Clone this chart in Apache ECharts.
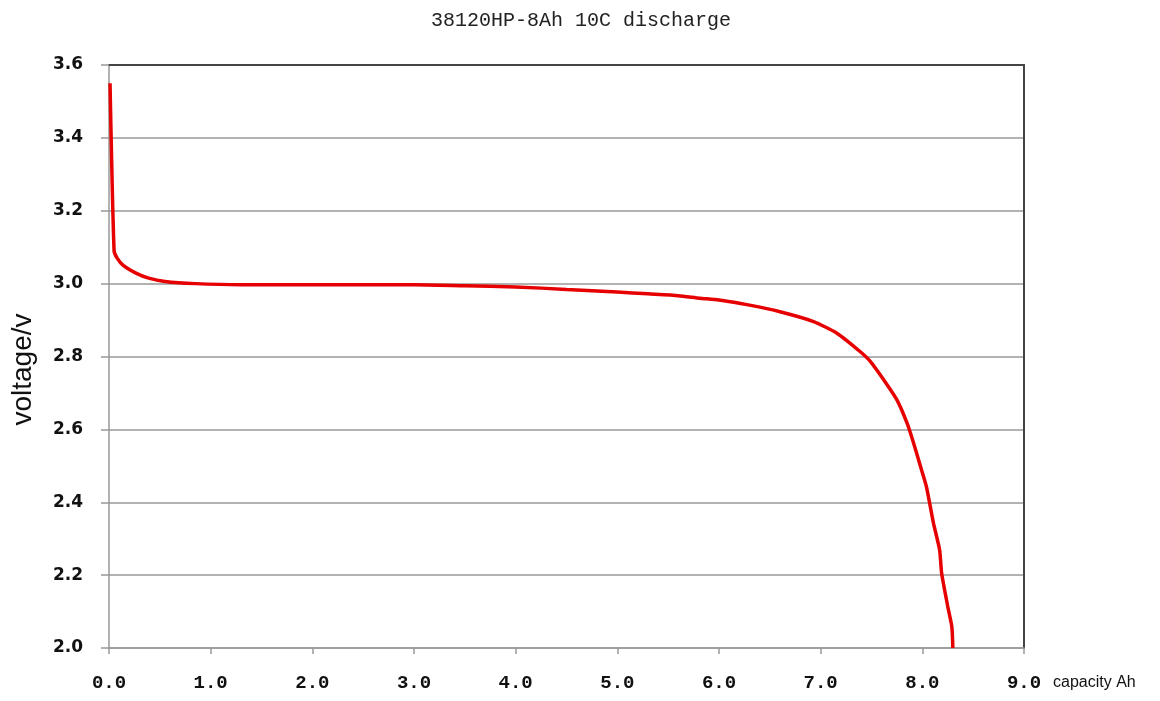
<!DOCTYPE html>
<html>
<head>
<meta charset="utf-8">
<script src="https://cdn.jsdelivr.net/npm/echarts@6/dist/echarts.min.js"></script>
<style>html,body{margin:0;padding:0;background:#fff}#c{width:1160px;height:701px}</style>
</head>
<body>
<div id="c"></div>
<script>
var titleText = '38120HP-8Ah 10C discharge';
var xName = 'capacity Ah';
var yName = 'voltage/v';
var capacity = [0.01, 0.05, 0.08, 0.14, 0.27, 0.39, 0.55, 0.85, 1.3, 2.0, 3.0, 3.5, 4.0, 4.5, 5.0, 5.3, 5.6, 5.81, 6.0, 6.3, 6.6, 6.93, 7.16, 7.39, 7.49, 7.62, 7.75, 7.85, 7.91, 7.98, 8.04, 8.11, 8.17, 8.19, 8.25, 8.29, 8.30];
var voltage  = [3.55, 3.09, 3.07, 3.05, 3.028, 3.015, 3.006, 3.0, 2.997, 2.997, 2.997, 2.994, 2.991, 2.984, 2.977, 2.972, 2.967, 2.960, 2.955, 2.941, 2.923, 2.896, 2.864, 2.813, 2.786, 2.736, 2.681, 2.617, 2.566, 2.500, 2.443, 2.342, 2.269, 2.205, 2.114, 2.059, 2.0];

var pts = capacity.map(function (c, i) { return [c, voltage[i]]; });

var chart = echarts.init(document.getElementById('c'));
chart.setOption({
  animation: false,
  backgroundColor: '#fff',
  title: {
    text: titleText,
    left: 576, top: 6, textAlign: 'center',
    textStyle: { fontFamily: 'Liberation Mono', fontSize: 20, fontWeight: 'normal', color: '#222' }
  },
  grid: { left: 109, right: 136, top: 65, bottom: 53 },
  xAxis: [{
    type: 'value', min: 0, max: 9, interval: 1,
    name: xName, nameLocation: 'end', nameGap: 29,
    nameTextStyle: { fontFamily: 'Liberation Sans', fontSize: 16, color: '#111', verticalAlign: 'top', padding: [27, 0, 0, 0] },
    axisLine: { show: true, onZero: false, lineStyle: { color: '#999', width: 1.5 } },
    axisTick: { show: true, length: 6, lineStyle: { color: '#999', width: 1.5 } },
    axisLabel: { margin: 26, fontFamily: 'Liberation Mono', fontWeight: 'bold', fontSize: 19, color: '#111',
      formatter: function (v) { return v.toFixed(1); } },
    splitLine: { show: false }
  }, {
    type: 'value', position: 'top', min: 0, max: 9,
    axisLine: { show: true, onZero: false, lineStyle: { color: '#444', width: 2 } },
    axisTick: { show: false }, axisLabel: { show: false }, splitLine: { show: false }
  }],
  yAxis: [{
    type: 'value', min: 2.0, max: 3.6, interval: 0.2,
    name: yName, nameLocation: 'middle', nameGap: 72,
    nameTextStyle: { fontFamily: 'Liberation Sans', fontSize: 28, color: '#111', padding: [0, 0, 0, -26] },
    axisLine: { show: true, onZero: false, lineStyle: { color: '#999', width: 1.5 } },
    axisTick: { show: true, length: 8, lineStyle: { color: '#999', width: 1.5 } },
    axisLabel: { margin: 26, fontFamily: 'DejaVu Sans', fontWeight: 'bold', fontSize: 17, color: '#111',
      formatter: function (v) { return v.toFixed(1); } },
    splitLine: { show: true, lineStyle: { color: '#999', width: 1.5 } }
  }, {
    type: 'value', position: 'right', min: 2.0, max: 3.6,
    axisLine: { show: true, onZero: false, lineStyle: { color: '#444', width: 2 } },
    axisTick: { show: false }, axisLabel: { show: false }, splitLine: { show: false }
  }],
  series: [{
    type: 'line',
    data: pts,
    showSymbol: false,
    smooth: 0.2,
    lineStyle: { color: '#e60000', width: 3.5 },
    z: 5
  }]
});
</script>
</body>
</html>
